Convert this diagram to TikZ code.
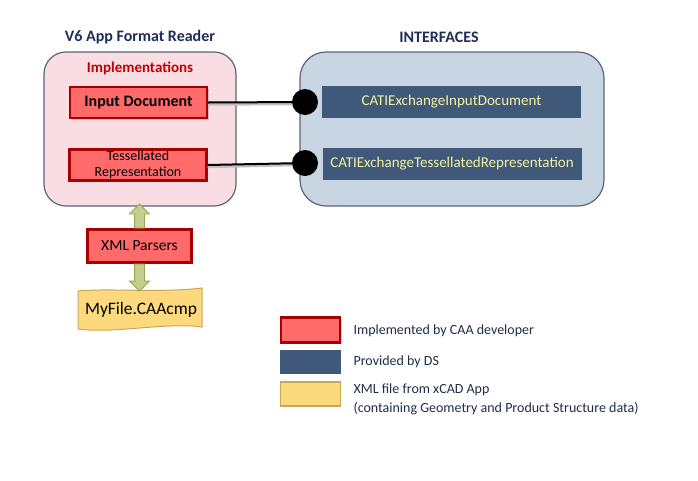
\documentclass[tikz,border=0pt]{standalone}
\usepackage{fontspec}
\setmainfont{Carlito}
\usetikzlibrary{shapes.arrows,shadows}

\definecolor{titlenavy}{HTML}{1F2D5C}
\definecolor{implred}{HTML}{C00000}
\definecolor{boxred}{HTML}{FF6B6B}
\definecolor{edgered}{HTML}{A80000}
\definecolor{panelpink}{HTML}{F9DDE3}
\definecolor{panelblue}{HTML}{C8D6E4}
\definecolor{paneledge}{HTML}{5B6478}
\definecolor{dsblue}{HTML}{40597A}
\definecolor{glowtext}{HTML}{F2F2A0}
\definecolor{filefill}{HTML}{FCD97D}
\definecolor{fileedge}{HTML}{C9A55A}
\definecolor{arrowfill}{HTML}{C6CE8C}
\definecolor{arrowedge}{HTML}{99A45A}
\definecolor{legendtext}{HTML}{1F2D4A}

\begin{document}
\begin{tikzpicture}[x=1pt, y=-1pt,
    panel/.style={draw=paneledge, line width=1.2pt, rounded corners=22pt},
    implbox/.style={draw=edgered, line width=2.2pt, fill=boxred,
        minimum width=137pt, minimum height=31pt, align=center, inner sep=1pt,
        drop shadow={shadow xshift=1.5pt, shadow yshift=-1.5pt, opacity=0.35}},
    dsbox/.style={fill=dsblue, minimum width=259pt, minimum height=32pt,
        text=glowtext, font=\fontsize{15}{17}\selectfont},
    lolli/.style={circle, fill=black, minimum size=26pt, inner sep=0pt},
    blockarr/.style={single arrow, draw=arrowedge, fill=arrowfill, line width=0.8pt,
        inner sep=4.5pt, single arrow head extend=5pt, single arrow head indent=0pt},
    title/.style={text=titlenavy, font=\bfseries\fontsize{16}{18}\selectfont},
    legend/.style={text=legendtext, anchor=west, align=left, font=\fontsize{14}{19}\selectfont}]

    \useasboundingbox (0,0) rectangle (698,480);

    % Panels
    \node[panel, fill=panelpink, minimum width=192pt, minimum height=154pt] (reader) at (140,129) {};
    \node[panel, fill=panelblue, minimum width=304pt, minimum height=154pt, rounded corners=26pt] (interfaces) at (452,129) {};
    \node[title] (readertitle) at (140,37) {V6 App Format Reader};
    \node[title] (intertitle) at (439,37) {INTERFACES};
    \node[text=implred, font=\bfseries\fontsize{15}{17}\selectfont] (impltitle) at (140,68) {Implementations};

    % Implementations
    \node[implbox, font=\bfseries\fontsize{16}{18}\selectfont] (indoc) at (138.5,102.5) {Input Document};
    \node[implbox, font=\fontsize{14}{16}\selectfont] (tessrep) at (138,165) {Tessellated\\Representation};

    % Interfaces provided by DS
    \node[dsbox] (caindoc) at (451.5,102) {CATIExchangeInputDocument};
    \node[dsbox] (catessrep) at (452,163.5) {CATIExchangeTessellatedRepresentation};

    % Lollipop connectors
    \node[lolli] (sockindoc) at (305,102) {};
    \node[lolli] (socktess) at (305,163) {};
    \draw[black!25, line width=2.5pt] ([yshift=-2pt]indoc.east) -- ([yshift=-2pt]sockindoc.west);
    \draw[black!25, line width=2.5pt] ([yshift=-2pt]tessrep.east) -- ([yshift=-2pt]socktess.west);
    \draw[line width=2pt] (indoc.east) -- (sockindoc);
    \draw[line width=2pt] (tessrep.east) -- (socktess);

    % Parser and file
    \node[implbox, minimum width=104pt, minimum height=33pt, font=\fontsize{15.5}{17}\selectfont] (parser) at (139.5,246) {XML Parsers};
    \draw[draw=fileedge, line width=1pt, fill=filefill]
        (78,291) .. controls (110,288) and (160,293) .. (202,288) -- (202,327)
        .. controls (165,322) and (115,334) .. (78,329) -- cycle;
    \node[font=\fontsize{17.5}{19}\selectfont] (myfile) at (141,310) {MyFile.CAAcmp};
    \coordinate (filetop) at (140,290);

    % Block arrows
    \node[blockarr, shape border rotate=90, minimum height=24pt, anchor=tail] (uparr) at (parser.north) {};
    \node[blockarr, shape border rotate=270, minimum height=27pt, anchor=tail] (downarr) at (parser.south) {};

    % Legend
    \node[implbox, minimum width=59pt, minimum height=25pt] (legimpl) at (310.5,330) {};
    \node[fill=dsblue, minimum width=61pt, minimum height=24pt] (legds) at (310.5,362) {};
    \node[draw=fileedge, line width=1.2pt, fill=filefill, minimum width=60pt, minimum height=24pt] (legfile) at (310.5,394) {};
    \node[legend] (txtimpl) at (350,331) {Implemented by CAA developer};
    \node[legend] (txtds) at (350,362) {Provided by DS};
    \node[legend] (txtfile) at (350,399) {XML file from xCAD App\\(containing Geometry and Product Structure data)};

\end{tikzpicture}
\end{document}
